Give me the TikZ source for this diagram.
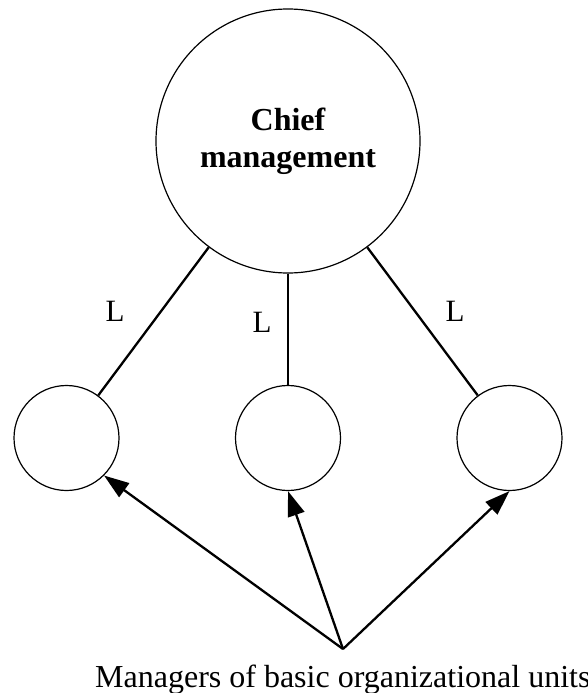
\documentclass[tikz,border=0pt]{standalone}
\usepackage{fontspec}
\setmainfont{Liberation Serif}
\usetikzlibrary{arrows.meta}
\begin{document}
\begin{tikzpicture}[x=1pt,y=-1pt,
  bigcirc/.style={circle,draw,line width=1.2pt,minimum size=264pt,inner sep=0pt,
    font=\fontsize{32}{37}\selectfont\bfseries,align=center},
  smallcirc/.style={circle,draw,line width=1.2pt,minimum size=105pt,inner sep=0pt},
  conn/.style={line width=2.3pt},
  arr/.style={line width=2.3pt,-{Triangle[length=25pt,width=17pt]}},
  lbl/.style={font=\fontsize{31}{36}\selectfont,inner sep=0pt}]
\useasboundingbox (0,0) rectangle (587,693);
\node[bigcirc] (c) at (288,141) {Chief\\management};
\node[smallcirc] (l) at (66.5,438) {};
\node[smallcirc] (m) at (288,438) {};
\node[smallcirc] (r) at (509.5,438) {};
\draw[conn] (c) -- (l);
\draw[conn] (c) -- (m);
\draw[conn] (c) -- (r);
\node[lbl] (L1) at (115,311) {L};
\node[lbl] (L2) at (262,322) {L};
\node[lbl] (L3) at (455,311) {L};
\coordinate (apex) at (343,649);
\draw[arr] (apex) -- (l.-45);
\draw[arr] (apex) -- (m.-90);
\draw[arr] (apex) -- (r.-90);
\node[font=\fontsize{32}{37}\selectfont,anchor=base west,inner sep=0pt] (txt) at (95,687) {Managers of basic organizational units};
\end{tikzpicture}
\end{document}
